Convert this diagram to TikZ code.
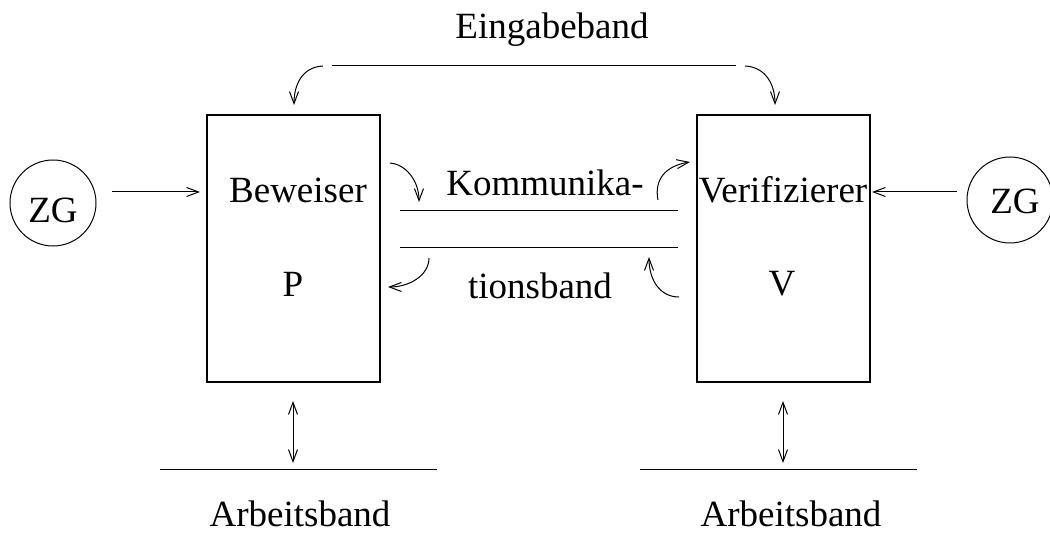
\documentclass[tikz,border=0pt]{standalone}
\usepackage{fontspec}
\setmainfont{Liberation Serif}
\usetikzlibrary{arrows.meta}
\begin{document}
\begin{tikzpicture}[x=1pt,y=-1pt,
  line width=1pt,
  lbl/.style={inner sep=0pt,font=\fontsize{37}{44}\selectfont},
  box/.style={draw,line width=1.1pt,minimum width=173pt,minimum height=267pt,inner sep=0pt},
  zg/.style={draw,circle,minimum size=86pt,inner sep=0pt},
  arr/.style={-{Straight Barb[length=12pt,width=9pt]}},
  darr/.style={{Straight Barb[length=12pt,width=9pt]}-{Straight Barb[length=12pt,width=9pt]}}]
\useasboundingbox (0,0) rectangle (1050,534);
% boxes
\node[box] (P) at (293.5,248.5) {};
\node[box] (V) at (783.5,248.5) {};
\node[zg] (zgl) at (53,203) {};
\node[lbl] at (53,210) {ZG};
\node[zg] (zgr) at (1010,200) {};
\node[lbl] at (1015,201) {ZG};
% texts
\node[lbl] (ein) at (552,30) {Eingabeband};
\node[lbl] (bew) at (298,190) {Beweiser};
\node[lbl] (pp) at (293,284) {P};
\node[lbl] (ver) at (783,190) {Verifizierer};
\node[lbl] (vv) at (782,284) {V};
\node[lbl] (kom) at (545,183) {Kommunika-};
\node[lbl] (tio) at (540,286) {tionsband};
\node[lbl] (arbl) at (300,514) {Arbeitsband};
\node[lbl] (arbr) at (791,514) {Arbeitsband};
% coordinates
\coordinate (ta) at (332,66); \coordinate (tb) at (736,66);
\coordinate (tl0) at (323,66); \coordinate (tl1) at (294,105);
\coordinate (tr0) at (745,66); \coordinate (tr1) at (775,105);
\coordinate (m1a) at (400,211); \coordinate (m1b) at (678,211);
\coordinate (m2a) at (400,248); \coordinate (m2b) at (678,248);
\coordinate (zl0) at (112,192); \coordinate (zl1) at (200,192);
\coordinate (zr0) at (957,192); \coordinate (zr1) at (872,192);
\coordinate (dl0) at (293,401); \coordinate (dl1) at (293,463);
\coordinate (dr0) at (783,401); \coordinate (dr1) at (783,463);
\coordinate (al0) at (160,470); \coordinate (al1) at (437,470);
\coordinate (ar0) at (640,470); \coordinate (ar1) at (917,470);
\coordinate (c1a) at (390,163); \coordinate (c1b) at (419,202);
\coordinate (c2a) at (429,258); \coordinate (c2b) at (388,287);
\coordinate (c3a) at (658,200); \coordinate (c3b) at (690,162);
\coordinate (c4a) at (679,297); \coordinate (c4b) at (649,257);
% lines
\draw (ta) -- (tb);
\draw (m1a) -- (m1b);
\draw (m2a) -- (m2b);
\draw (al0) -- (al1);
\draw (ar0) -- (ar1);
\draw[arr] (zl0) -- (zl1);
\draw[arr] (zr0) -- (zr1);
\draw[darr] (dl0) -- (dl1);
\draw[darr] (dr0) -- (dr1);
% curved arrows
\draw[arr] (tl0) .. controls (302,67) and (294,85) .. (tl1);
\draw[arr] (tr0) .. controls (766,67) and (775,85) .. (tr1);
\draw[arr] (c1a) .. controls (405,164) and (419,180) .. (c1b);
\draw[arr] (c2a) .. controls (429,275) and (410,287) .. (c2b);
\draw[arr] (c3a) .. controls (654,180) and (665,166) .. (c3b);
\draw[arr] (c4a) .. controls (660,297) and (649,280) .. (c4b);
\end{tikzpicture}
\end{document}
